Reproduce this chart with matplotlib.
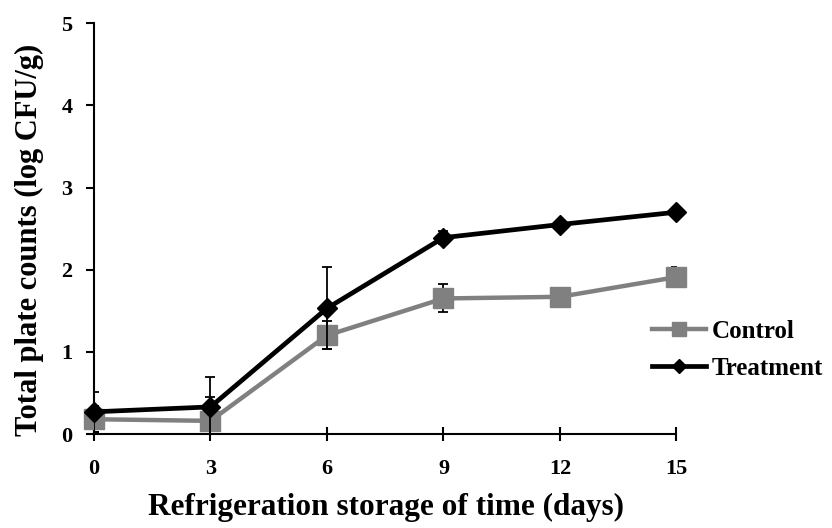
import matplotlib
matplotlib.use("Agg")
import matplotlib.pyplot as plt

days = [0, 3, 6, 9, 12, 15]
control = [0.18, 0.16, 1.20, 1.65, 1.67, 1.91]
control_err = [0.16, 0.29, 0.17, 0.17, 0.05, 0.12]
treatment = [0.27, 0.33, 1.53, 2.39, 2.55, 2.70]
treatment_err = [0.24, 0.36, 0.50, 0.08, 0.04, 0.04]
x_ticks = [0, 3, 6, 9, 12, 15]
y_ticks = [0, 1, 2, 3, 4, 5]

plt.rcParams["font.family"] = ["Liberation Serif", "DejaVu Serif"]
plt.rcParams["font.weight"] = "bold"

fig = plt.figure(figsize=(8.32, 5.28), dpi=100)
ax = fig.add_axes([0.113, 0.178, 0.7, 0.778])

ax.errorbar(days, control, yerr=control_err, fmt="none", ecolor="black",
            elinewidth=1.3, capsize=3.6, capthick=1.3, zorder=2)
ax.errorbar(days, treatment, yerr=treatment_err, fmt="none", ecolor="black",
            elinewidth=1.3, capsize=3.6, capthick=1.3, zorder=4)
ax.plot(days, control, color="#808080", lw=3.2, marker="s", ms=15,
        mec="#808080", mfc="#808080", label="Control", zorder=3, clip_on=False)
ax.plot(days, treatment, color="black", lw=3.4, marker="D", ms=10,
        mec="black", mfc="black", label="Treatment", zorder=5, clip_on=False)

ax.set_xlim(0, 15)
ax.set_ylim(0, 5)
ax.set_xticks(x_ticks)
ax.set_yticks(y_ticks)
ax.spines["top"].set_visible(False)
ax.spines["right"].set_visible(False)
for s in ("left", "bottom"):
    ax.spines[s].set_linewidth(1.5)
    ax.spines[s].set_clip_on(False)
ax.tick_params(axis="y", direction="out", length=5.5, width=1.5, labelsize=16, pad=10)
ax.tick_params(axis="x", direction="inout", length=10, width=1.5, labelsize=16, pad=13)
for lab in ax.get_xticklabels() + ax.get_yticklabels():
    lab.set_fontweight("bold")

fig.text(0.464, 0.024, "Refrigeration storage of time (days)", ha="center",
         va="baseline", fontsize=22.5, fontweight="bold")
fig.text(0.035, 0.545, "Total plate counts (log CFU/g)", ha="center",
         va="center", rotation=90, fontsize=22, fontweight="bold")

leg = fig.legend(loc="center left", bbox_to_anchor=(0.772, 0.337), frameon=False,
                 borderaxespad=0, prop={"size": 18, "weight": "bold"},
                 handlelength=2.16, handletextpad=0.2, labelspacing=0.55,
                 markerscale=0.7)

fig.savefig("out.png", dpi=100)
